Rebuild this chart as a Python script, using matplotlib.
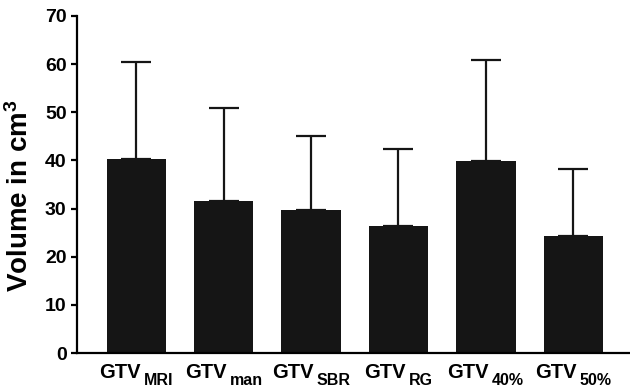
import matplotlib
matplotlib.use("Agg")
import matplotlib.pyplot as plt
from matplotlib.transforms import blended_transform_factory, offset_copy
import numpy as np

prefix = "GTV"
categories = ["MRI", "man", "SBR", "RG", "40%", "50%"]
means = [40.3, 31.6, 29.6, 26.3, 39.9, 24.3]
upper = [60.5, 50.8, 45.0, 42.4, 60.8, 38.3]
yticks = [0, 10, 20, 30, 40, 50, 60, 70]

plt.rcParams['font.family'] = ['Liberation Sans', 'DejaVu Sans']
plt.rcParams['font.weight'] = 'bold'
plt.rcParams['mathtext.fontset'] = 'custom'
plt.rcParams['mathtext.rm'] = 'Liberation Sans:bold'
plt.rcParams['mathtext.bf'] = 'Liberation Sans:bold'
plt.rcParams['mathtext.it'] = 'Liberation Sans:bold'

fig = plt.figure(figsize=(6.3, 3.92), dpi=100)
ax = fig.add_axes([77/630, 39/392, 1 - 77/630, (353-16)/392])

x = np.arange(len(categories))
err = np.array(upper) - np.array(means)
ax.bar(x, means, width=0.68, color='#151515', zorder=2)
ax.errorbar(x, means, yerr=[np.zeros_like(err), err], fmt='none',
            ecolor='#151515', elinewidth=1.6, capsize=10.8, capthick=1.6, zorder=1)

ax.set_xlim(-0.68, 5.65)
ax.set_ylim(0, 70)
ax.set_yticks(yticks)
ax.set_yticklabels([str(v) for v in yticks], fontsize=14, fontweight='bold')
ax.set_xticks(x)
ax.set_xticklabels([])
ax.tick_params(axis='x', length=0)
ax.tick_params(axis='y', length=4, width=1.6, pad=3.5)
for s in ['top', 'right']:
    ax.spines[s].set_visible(False)
for s in ['left', 'bottom']:
    ax.spines[s].set_linewidth(1.6)

fig.text(20/630, 1 - 195.5/392, r'Volume in cm$^\mathbf{3}$', rotation=90,
         ha='center', va='center', fontsize=20, fontweight='bold')

# x labels with large subscripts
trans = blended_transform_factory(ax.transData, ax.transAxes)
fig.canvas.draw()
renderer = fig.canvas.get_renderer()
main_fs, sub_fs = 14.5, 11.5
gap = 3
for xi, sub in zip(x, categories):
    t1 = ax.text(xi, 0, prefix, transform=trans, ha='left', va='baseline',
                 fontsize=main_fs, fontweight='bold')
    t2 = ax.text(xi, 0, sub, transform=trans, ha='left', va='baseline',
                 fontsize=sub_fs, fontweight='bold')
    w1 = t1.get_window_extent(renderer).width
    w2 = t2.get_window_extent(renderer).width
    tot = w1 + gap + w2
    t1.set_transform(offset_copy(trans, fig=fig, x=-tot/2, y=-24.5, units='dots'))
    t2.set_transform(offset_copy(trans, fig=fig, x=-tot/2 + w1 + gap, y=-32, units='dots'))

fig.savefig('out.png', dpi=100)
